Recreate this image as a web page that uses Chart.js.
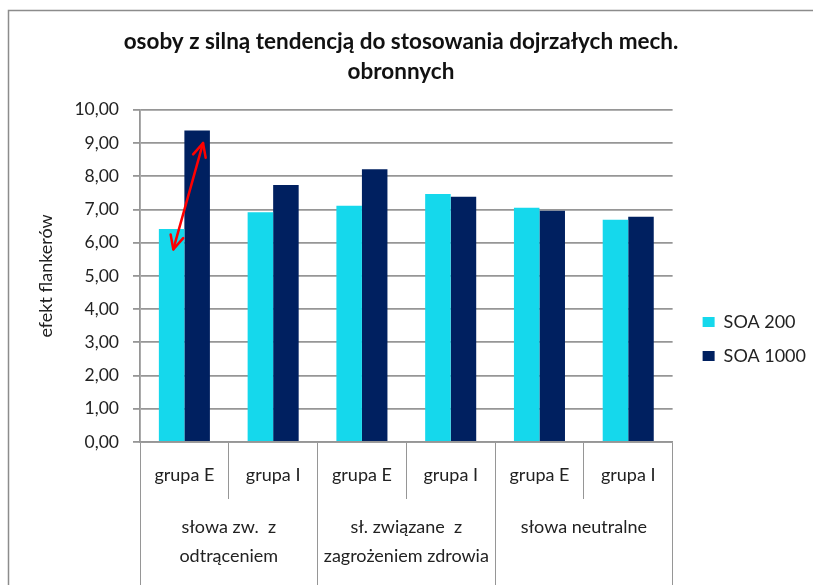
<!DOCTYPE html>
<html>
<head>
<meta charset="utf-8">
<script src="https://cdn.jsdelivr.net/npm/chart.js@4/dist/chart.umd.min.js"></script>
<style>
  html, body { margin: 0; padding: 0; background: #fff; }
  canvas { display: block; }
</style>
</head>
<body>
<canvas id="chart" width="813" height="585"></canvas>
<script>
var categories = ["grupa E", "grupa I", "grupa E", "grupa I", "grupa E", "grupa I"];
var groups = [["słowa zw.  z", "odtrąceniem"], ["sł. związane  z", "zagrożeniem zdrowia"], ["słowa neutralne"]];
var soa200 = [6.41, 6.92, 7.11, 7.47, 7.05, 6.69];
var soa1000 = [9.38, 7.74, 8.21, 7.38, 6.96, 6.78];
// red arrow between the first pair of bars (category index, value)
var arrowX = [-0.125, 0.21];
var arrowY = [5.8, 9.0];

var FONT = "Lato, 'Open Sans', 'DejaVu Sans', sans-serif";
var GRID = "#969696";

var framePlugin = {
  id: "frame",
  beforeDraw: function (chart) {
    var ctx = chart.ctx;
    ctx.save();
    ctx.strokeStyle = "#8c8c8c";
    ctx.lineWidth = 1.5;
    ctx.beginPath();
    ctx.moveTo(8.5, chart.height);
    ctx.lineTo(8.5, 10.5);
    ctx.lineTo(chart.width, 10.5);
    ctx.stroke();
    ctx.restore();
  }
};

var legendShift = {
  id: "legendShift",
  afterLayout: function (chart) {
    var lg = chart.legend;
    var dx = chart.chartArea.right + 14 - lg.left;
    var dy = 297;
    lg.left += dx; lg.right += dx;
    lg.top += dy; lg.bottom += dy;
  }
};

var arrowPlugin = {
  id: "arrow",
  afterDatasetsDraw: function (chart) {
    var ctx = chart.ctx;
    var x = chart.scales.x, y = chart.scales.y;
    var x0 = x.getPixelForValue(arrowX[0]), y0 = y.getPixelForValue(arrowY[0]);
    var x1 = x.getPixelForValue(arrowX[1]), y1 = y.getPixelForValue(arrowY[1]);
    var head = function (px, py, ang) {
      var len = 15, spread = 0.45;
      ctx.beginPath();
      ctx.moveTo(px - len * Math.cos(ang - spread), py - len * Math.sin(ang - spread));
      ctx.lineTo(px, py);
      ctx.lineTo(px - len * Math.cos(ang + spread), py - len * Math.sin(ang + spread));
      ctx.stroke();
    };
    ctx.save();
    ctx.strokeStyle = "#ff0000";
    ctx.lineWidth = 2.5;
    ctx.lineCap = "round";
    ctx.lineJoin = "round";
    ctx.beginPath();
    ctx.moveTo(x0, y0);
    ctx.lineTo(x1, y1);
    ctx.stroke();
    var a = Math.atan2(y1 - y0, x1 - x0);
    head(x1, y1, a);
    head(x0, y0, a + Math.PI);
    ctx.restore();
  }
};

new Chart(document.getElementById("chart"), {
  type: "bar",
  data: {
    labels: categories,
    datasets: [{
      label: "SOA 200",
      data: soa200,
      backgroundColor: "#15d8ec",
      categoryPercentage: 0.575,
      barPercentage: 1.0
    }, {
      label: "SOA 1000",
      data: soa1000,
      backgroundColor: "#002060",
      categoryPercentage: 0.575,
      barPercentage: 1.0
    }]
  },
  options: {
    responsive: false,
    animation: false,
    layout: { padding: { left: 0, right: 11, top: 0, bottom: 0 } },
    plugins: {
      title: {
        display: true,
        text: ["osoby z silną tendencją do stosowania dojrzałych mech.", "obronnych"],
        color: "#111",
        font: { family: FONT, size: 22.5, weight: "bold", lineHeight: 1.33 },
        padding: { top: 27, bottom: 23 }
      },
      legend: {
        position: "right",
        align: "start",
        labels: {
          boxWidth: 12,
          boxHeight: 10,
          padding: 16,
          color: "#222",
          font: { family: FONT, size: 18 }
        }
      },
      tooltip: { enabled: false }
    },
    scales: {
      x: {
        grid: { display: true, offset: true, drawOnChartArea: false, tickLength: 57, color: GRID, lineWidth: 1 },
        border: { display: true, color: GRID, width: 1.8 },
        ticks: { color: "#222", padding: -35, font: { family: FONT, size: 18 } },
        afterFit: function (s) { s.height = 44; }
      },
      x2: {
        type: "category",
        labels: groups,
        position: "bottom",
        offset: true,
        grid: { display: true, offset: true, drawOnChartArea: false, tickLength: 110, color: GRID, lineWidth: 1 },
        border: { display: false },
        ticks: { color: "#222", padding: -83, font: { family: FONT, size: 18, lineHeight: 1.6 } },
        afterFit: function (s) { s.height = 99; }
      },
      y: {
        min: 0,
        max: 10,
        ticks: {
          stepSize: 1,
          padding: 14,
          color: "#222",
          font: { family: FONT, size: 17.5 },
          callback: function (v) { return v.toFixed(2).replace(".", ","); }
        },
        grid: { color: GRID, lineWidth: 1.8, tickLength: 7 },
        border: { display: true, color: GRID, width: 1.8 },
        title: {
          display: true,
          text: "efekt flankerów",
          color: "#222",
          font: { family: FONT, size: 18, lineHeight: 1.2 },
          padding: { top: 35, bottom: 0 }
        },
        afterFit: function (s) { s.width = 140; }
      }
    }
  },
  plugins: [framePlugin, legendShift, arrowPlugin]
});
</script>
</body>
</html>
